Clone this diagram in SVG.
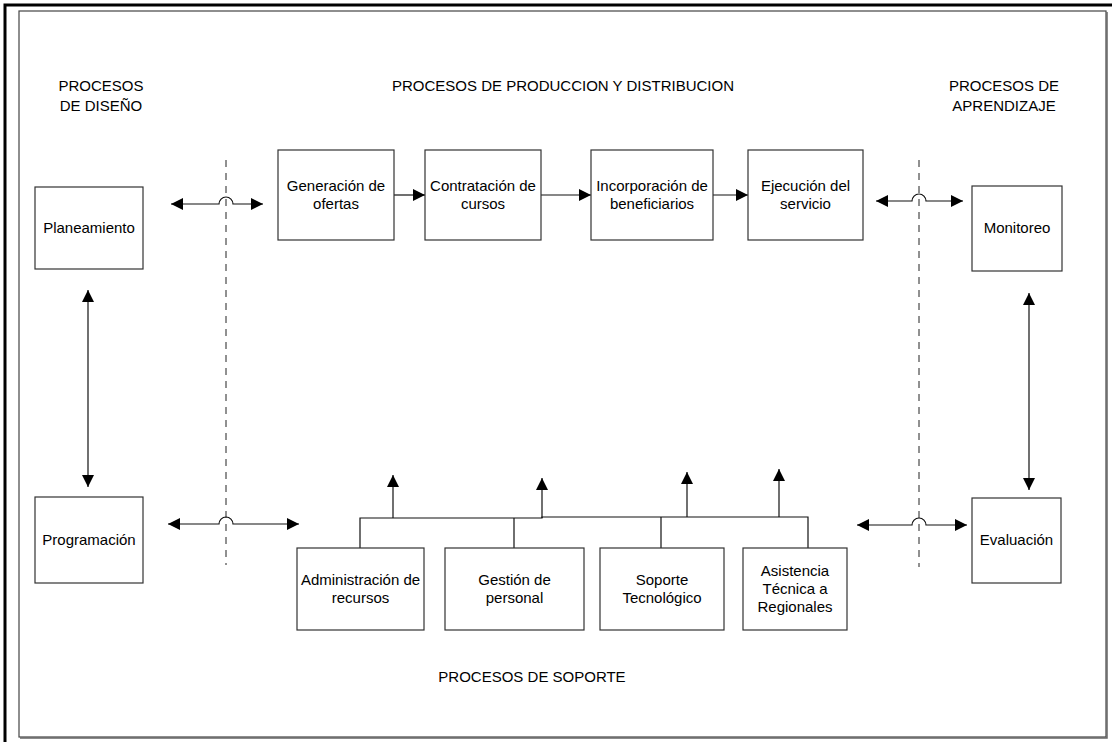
<svg xmlns="http://www.w3.org/2000/svg" width="1116" height="742" viewBox="0 0 1116 742">
<style>
.box{fill:#fff;stroke:#333;stroke-width:1.2}
.t{font-family:"Liberation Sans",Arial,sans-serif;font-size:15px;fill:#000;text-anchor:middle}
.c{fill:none;stroke:#111;stroke-width:1.2}
.dash{fill:none;stroke:#222;stroke-width:1;stroke-dasharray:7,6}
</style>
<defs>
<marker id="ah" markerUnits="userSpaceOnUse" markerWidth="14" markerHeight="12" refX="12" refY="6" orient="auto-start-reverse">
<path d="M0,0 L12,6 L0,12 Z" fill="#000"/>
</marker>
</defs>
<rect x="0" y="0" width="1116" height="742" fill="#fff"/>
<g id="frame">
<path d="M5,742 V5 H1112" fill="none" stroke="#000" stroke-width="3"/>
<rect x="19" y="11" width="1087" height="726" fill="none" stroke="#444" stroke-width="1.2"/>
<path d="M1107,12 V738 H20" fill="none" stroke="#666" stroke-width="1.5"/>
</g>
<g id="headings">
<text class="t" x="101" y="91">PROCESOS</text>
<text class="t" x="101" y="111">DE DISEÑO</text>
<text class="t" x="563" y="91">PROCESOS DE PRODUCCION Y DISTRIBUCION</text>
<text class="t" x="1004" y="91">PROCESOS DE</text>
<text class="t" x="1004" y="111">APRENDIZAJE</text>
<text class="t" x="532" y="682">PROCESOS DE SOPORTE</text>
</g>
<g id="connectors">
<line class="dash" x1="226" y1="160" x2="226" y2="565"/>
<line class="dash" x1="919" y1="160" x2="919" y2="567"/>
<path class="c" d="M171,204 H219 A7,7 0 0 1 233,204 H263" marker-start="url(#ah)" marker-end="url(#ah)"/>
<path class="c" d="M168,524 H219 A7,7 0 0 1 233,524 H299" marker-start="url(#ah)" marker-end="url(#ah)"/>
<path class="c" d="M876,201 H912 A7,7 0 0 1 926,201 H963" marker-start="url(#ah)" marker-end="url(#ah)"/>
<path class="c" d="M857,525 H912 A7,7 0 0 1 926,525 H967" marker-start="url(#ah)" marker-end="url(#ah)"/>
<line class="c" x1="394" y1="195" x2="425" y2="195" marker-end="url(#ah)"/>
<line class="c" x1="541" y1="195" x2="591" y2="195" marker-end="url(#ah)"/>
<line class="c" x1="713" y1="195" x2="748" y2="195" marker-end="url(#ah)"/>
<line class="c" x1="88" y1="290" x2="88" y2="487" marker-start="url(#ah)" marker-end="url(#ah)"/>
<line class="c" x1="1029" y1="293" x2="1029" y2="490" marker-start="url(#ah)" marker-end="url(#ah)"/>
<path class="c" d="M360,548 V518 H542 V517 H808 V548 M514,518 V548 M661,517 V548"/>
<line class="c" x1="393" y1="518" x2="393" y2="475" marker-end="url(#ah)"/>
<line class="c" x1="542" y1="518" x2="542" y2="478" marker-end="url(#ah)"/>
<line class="c" x1="687" y1="517" x2="687" y2="472" marker-end="url(#ah)"/>
<line class="c" x1="779" y1="517" x2="779" y2="469" marker-end="url(#ah)"/>
</g>
<g id="planeamiento"><rect class="box" x="35" y="187" width="108" height="82"/><text class="t" x="89" y="233">Planeamiento</text></g>
<g id="programacion"><rect class="box" x="35" y="497" width="108" height="86"/><text class="t" x="89" y="545">Programación</text></g>
<g id="generacion"><rect class="box" x="278" y="150" width="116" height="90"/><text class="t" x="336" y="191">Generación de</text><text class="t" x="336" y="209">ofertas</text></g>
<g id="contratacion"><rect class="box" x="425" y="150" width="116" height="90"/><text class="t" x="483" y="191">Contratación de</text><text class="t" x="483" y="209">cursos</text></g>
<g id="incorporacion"><rect class="box" x="591" y="150" width="122" height="90"/><text class="t" x="652" y="191">Incorporación de</text><text class="t" x="652" y="209">beneficiarios</text></g>
<g id="ejecucion"><rect class="box" x="748" y="150" width="115" height="90"/><text class="t" x="805.5" y="191">Ejecución del</text><text class="t" x="805.5" y="209">servicio</text></g>
<g id="monitoreo"><rect class="box" x="972" y="186" width="90" height="85"/><text class="t" x="1017" y="233">Monitoreo</text></g>
<g id="evaluacion"><rect class="box" x="972" y="498" width="89" height="85"/><text class="t" x="1016.5" y="545">Evaluación</text></g>
<g id="administracion"><rect class="box" x="297" y="548" width="127" height="82"/><text class="t" x="360.5" y="585">Administración de</text><text class="t" x="360.5" y="603">recursos</text></g>
<g id="gestion"><rect class="box" x="445" y="548" width="139" height="82"/><text class="t" x="514.5" y="585">Gestión de</text><text class="t" x="514.5" y="603">personal</text></g>
<g id="soporte"><rect class="box" x="600" y="548" width="124" height="82"/><text class="t" x="662" y="585">Soporte</text><text class="t" x="662" y="603">Tecnológico</text></g>
<g id="asistencia"><rect class="box" x="743" y="548" width="104" height="82"/><text class="t" x="795" y="576">Asistencia</text><text class="t" x="795" y="594">Técnica a</text><text class="t" x="795" y="612">Regionales</text></g>
</svg>
